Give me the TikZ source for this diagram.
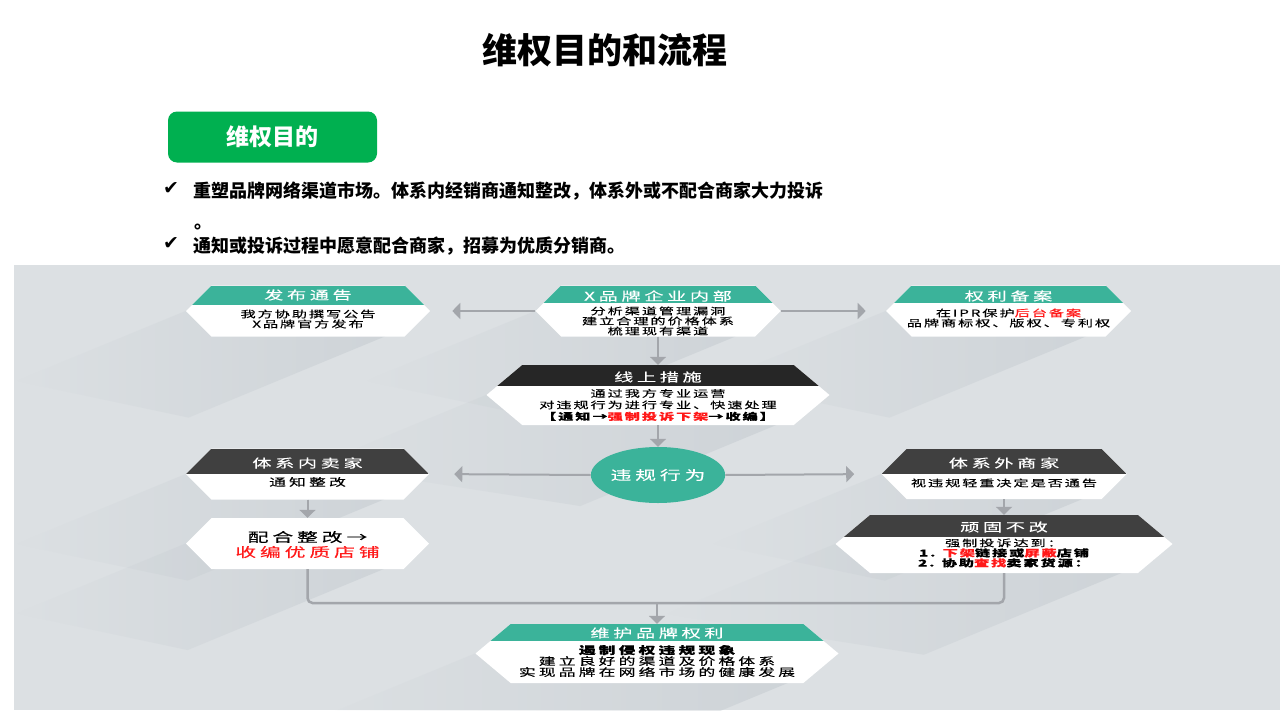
\documentclass[tikz,border=0pt]{standalone}
\usepackage{fontspec}
\setmainfont{Noto Sans CJK SC}
\newfontfamily\boxfont[FakeStretch=1.6, LetterSpace=20, FakeBold=0.3]{Noto Sans CJK SC}
\newfontfamily\wideboxfont[FakeStretch=1.6, LetterSpace=30, FakeBold=0.3]{Noto Sans CJK SC}
\newfontfamily\symfont{DejaVu Sans}
\usetikzlibrary{shapes.symbols, shapes.geometric, arrows.meta, calc, fadings}
\pgfdeclarelayer{bg}
\pgfsetlayers{bg,main}

\definecolor{aimgreen}{HTML}{00B050}
\definecolor{headteal}{HTML}{3BB39A}
\definecolor{headblack}{HTML}{262626}
\definecolor{headgray}{HTML}{404040}
\definecolor{panelgray}{HTML}{DCE0E3}
\definecolor{shadowgray}{HTML}{BCC3C9}
\definecolor{linkgray}{HTML}{A3A6AB}
\definecolor{alertred}{HTML}{FF1A1A}

\tikzfading[name=shadowfade, left color=transparent!100, right color=transparent!55]

\tikzset{
  hexbox/.style={shape=signal, signal to=west and east, signal pointer angle=90,
    fill=white, inner sep=0pt},
  head/.style 2 args={path picture={\fill[#1] (path picture bounding box.north west)
    rectangle ([yshift=-#2]path picture bounding box.north east);}},
  headtext/.style={text=white, font=\wideboxfont\fontsize{12}{12}\selectfont, inner sep=0pt},
  bodytext/.style={align=center, font=\boxfont\fontsize{9.5}{10}\selectfont, inner sep=0pt},
  widebody/.style={align=center, font=\wideboxfont\fontsize{10.5}{11}\selectfont, inner sep=0pt},
  bigtext/.style={align=center, font=\wideboxfont\fontsize{13}{15}\selectfont, inner sep=0pt},
  bullettext/.style={font=\bfseries\fontsize{18}{18}\selectfont, inner sep=0pt},
  checkmark/.style={font=\symfont\fontsize{19}{19}\selectfont, inner sep=0pt},
  linkline/.style={draw=linkgray, line width=2pt},
  link/.style={linkline, -{Triangle[width=16pt, length=8pt]}},
  boxshadow/.style={fill=shadowgray, path fading=shadowfade},
}

\begin{document}
\begin{tikzpicture}[x=1pt, y=-1pt]
    \useasboundingbox (0,0) rectangle (1280,720);
    % heading and aims
    \node[font=\bfseries\fontsize{35}{35}\selectfont] (title) at (605, 50) {维权目的和流程};
    \node[fill=aimgreen, rounded corners=9pt, minimum width=209pt, minimum height=51pt,
          text=white, font=\bfseries\fontsize{23}{23}\selectfont] (aim) at (272.5, 137) {维权目的};
    \node[checkmark] (tick1) at (171, 189) {✔};
    \node[bullettext, anchor=base west] (aim1) at (193, 197) {重塑品牌网络渠道市场。体系内经销商通知整改，体系外或不配合商家大力投诉};
    \node[bullettext, anchor=base west] (aim1b) at (194, 228) {。};
    \node[checkmark] (tick2) at (171, 244) {✔};
    \node[bullettext, anchor=base west] (aim2) at (193, 252) {通知或投诉过程中愿意配合商家，招募为优质分销商。};

    % boxes: fabu neibu quanli xianshang weigui
    \node[hexbox, head={headteal}{19pt}, minimum width=244pt, minimum height=51pt] (fabu) at (308, 311) {};
    \node[headtext] (fabu-t) at (308, 295) {发布通告};
    \node[bodytext] (fabu-b) at (308, 319) {我方协助撰写公告\\X品牌官方发布};
    \node[hexbox, head={headteal}{17pt}, minimum width=245pt, minimum height=51pt] (neibu) at (658, 311) {};
    \node[headtext] (neibu-t) at (658, 296) {X品牌企业内部};
    \node[bodytext] (neibu-b) at (658, 321) {分析渠道管理漏洞\\建立合理的价格体系\\梳理现有渠道};
    \node[hexbox, head={headteal}{17pt}, minimum width=245pt, minimum height=51pt] (quanli) at (1008.5, 311) {};
    \node[headtext] (quanli-t) at (1008.5, 296) {权利备案};
    \node[bodytext] (quanli-b) at (1008.5, 318) {在IPR保护\textcolor{alertred}{后台备案}\\品牌商标权、版权、专利权};
    \node[hexbox, head={headblack}{21pt}, signal pointer angle=80, minimum width=343pt, minimum height=60pt] (xianshang) at (658, 395) {};
    \node[headtext] (xianshang-t) at (658, 377) {线上措施};
    \node[bodytext, font=\boxfont\fontsize{9.5}{11.5}\selectfont] (xianshang-b) at (658, 405)
        {通过我方专业运营\\对违规行为进行专业、快速处理\\{\bfseries【通知→\textcolor{alertred}{强制投诉下架}→收编】}};
    \node[ellipse, fill=headteal, minimum width=122pt, minimum height=56pt, inner sep=0pt,
          text=white, font=\wideboxfont\fontsize{13}{13}\selectfont] (weigui) at (658, 475) {违规行为};
    % boxes: neinai peihe waishang wangu weihu
    \node[hexbox, head={headgray}{25pt}, minimum width=243pt, minimum height=51pt] (neinai) at (307.5, 474) {};
    \node[headtext] (neinai-t) at (307.5, 463) {体系内卖家};
    \node[widebody] (neinai-b) at (307.5, 482) {通知整改};
    \node[hexbox, minimum width=243pt, minimum height=51pt] (peihe) at (307.5, 543.5) {};
    \node[bigtext] (peihe-b) at (307.5, 544.5) {配合整改→\\\textcolor{alertred}{收编优质店铺}};
    \node[hexbox, head={headgray}{25pt}, minimum width=245pt, minimum height=50pt] (waishang) at (1004, 474) {};
    \node[headtext] (waishang-t) at (1004, 463) {体系外商家};
    \node[bodytext] (waishang-b) at (1004, 483) {视违规轻重决定是否通告};
    \node[hexbox, head={headgray}{22pt}, signal pointer angle=80, minimum width=337pt, minimum height=58pt] (wangu) at (1004, 544) {};
    \node[headtext] (wangu-t) at (1004, 527) {顽固不改};
    \node[bodytext] (wangu-b) at (1004, 553)
        {强制投诉达到：\\{\bfseries 1. \textcolor{alertred}{下架}链接或\textcolor{alertred}{屏蔽}店铺}\\{\bfseries 2. 协助\textcolor{alertred}{查找}卖家货源：}};
    \node[hexbox, head={headteal}{17pt}, signal pointer angle=80, minimum width=363pt, minimum height=59pt] (weihu) at (657, 653.5) {};
    \node[headtext] (weihu-t) at (657, 633) {维护品牌权利};
    \node[widebody] (weihu-b) at (657, 661)
        {{\bfseries 遏制侵权违规现象}\\建立良好的渠道及价格体系\\实现品牌在网络市场的健康发展};

    % connectors
    \draw[link, shorten >=22pt] (neibu.west) -- (fabu.east);
    \draw[link, shorten >=20pt] (neibu.east) -- (quanli.west);
    \draw[link] (neibu.south) -- (xianshang.north);
    \draw[link] (xianshang.south) -- (weigui.north);
    \draw[link, shorten >=25pt] (weigui.west) -- (neinai.east);
    \draw[link, shorten >=27pt] (weigui.east) -- (waishang.west);
    \draw[link] (neinai.south) -- (peihe.north);
    \draw[link] (waishang.south) -- (wangu.north);
    \coordinate (hub) at (657, 603);
    \draw[linkline, line width=2.5pt, rounded corners=5pt] (peihe.south) |- (hub) -| (wangu.south);
    \draw[link] (hub) -- (weihu.north);

    % panel and long shadows
    \begin{pgfonlayer}{bg}
        \fill[white] (0,0) rectangle (1280,720);
        \fill[panelgray] (14,265) rectangle (1280,710);
        \begin{scope}
            \clip (14,265) rectangle (1280,710);
            \foreach \b in {fabu,neibu,quanli,xianshang,neinai,peihe,waishang,wangu,weihu}
                \fill[boxshadow] (\b.west) -- (\b.-6) -- ++(-230,95) -- ($(\b.west)+(-170,70)$) -- cycle;
        \end{scope}
    \end{pgfonlayer}
\end{tikzpicture}
\end{document}
